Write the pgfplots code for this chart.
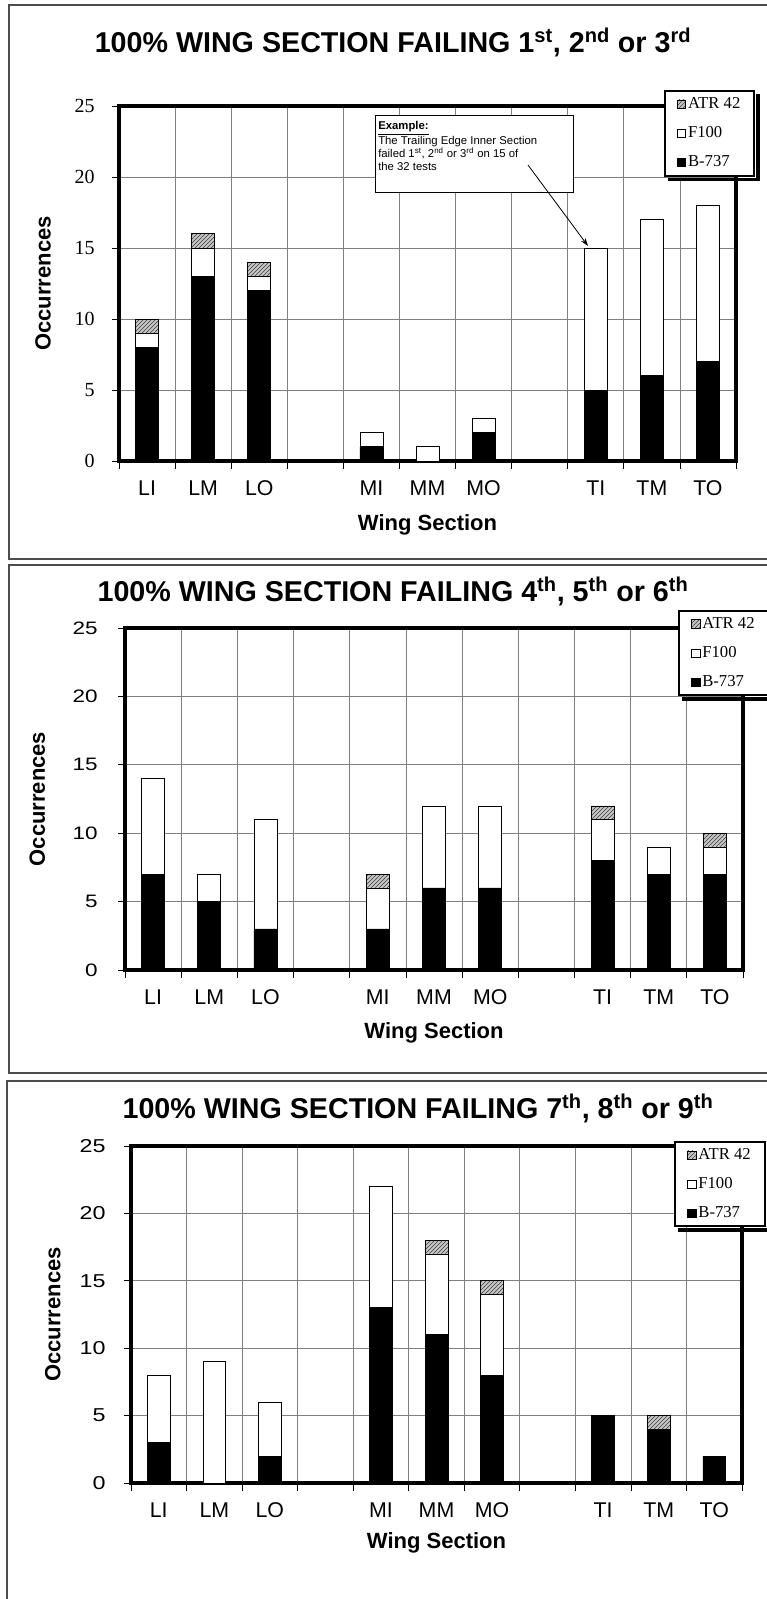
\documentclass[border=0pt]{standalone}
\usepackage{fontspec}
\setmainfont{Liberation Sans}
\newfontfamily\tnr{Liberation Serif}
\newfontfamily\wide[FakeStretch=1.25]{Liberation Sans}
\usepackage{pgfplots}
\usepackage{pgfplotstable}
\pgfplotsset{compat=1.18}
\usetikzlibrary{patterns,arrows.meta}

% stacked counts per wing section: B-737, F100, ATR 42
\pgfplotstableread{
x b737 f100 atr
1 8 1 1
2 13 2 1
3 12 1 1
5 1 1 0
6 0 1 0
7 2 1 0
9 5 10 0
10 6 11 0
11 7 11 0
}\first

\pgfplotstableread{
x b737 f100 atr
1 7 7 0
2 5 2 0
3 3 8 0
5 3 3 1
6 6 6 0
7 6 6 0
9 8 3 1
10 7 2 0
11 7 2 1
}\second

\pgfplotstableread{
x b737 f100 atr
1 3 5 0
2 0 9 0
3 2 4 0
5 13 9 0
6 11 6 1
7 8 6 1
9 5 0 0
10 4 0 1
11 2 0 0
}\third

\pgfplotsset{
  sqlegend/.style={legend image code/.code={\draw[##1,line width=0.5pt] (0pt,-3.2pt) rectangle (6.4pt,3.2pt);}},
  boeing/.style={fill=black, draw=black, line width=0.5pt, sqlegend},
  fokker/.style={fill=white, draw=black, line width=0.5pt, sqlegend},
  atr/.style={fill=gray!45, draw=black, line width=0.5pt,
    postaction={pattern=north east lines, pattern color=black!75}, sqlegend},
  wing/.style={
    scale only axis,
    ybar stacked,
    bar width=0.41,
    xmin=0.5, xmax=11.5,
    ymin=0, ymax=25,
    ytick={0,5,...,25},
    xtick={1,2,3,5,6,7,9,10,11},
    xticklabels={LI,LM,LO,MI,MM,MO,TI,TM,TO},
    minor xtick={0.5,1.5,...,11.5},
    every major x tick/.style={draw=none},
    tick pos=left,
    ymajorgrids=true, xminorgrids=true,
    major grid style={black!50, line width=0.6pt},
    minor grid style={black!50, line width=0.6pt},
    axis line style={line width=2.4pt, line cap=rect},
    tick align=outside,
    tick style={black, line width=0.6pt},
    major tick length=5pt, minor tick length=6pt,
    /pgf/number format/assume math mode=true,
    xticklabel style={font=\fontsize{16}{16}\selectfont, yshift=-6pt},
    xlabel={Wing Section},
    ylabel={Occurrences},
    label style={font=\bfseries\fontsize{16.5}{16.5}\selectfont},
    reverse legend,
    legend style={anchor=north west, draw=black, line width=1.5pt, fill=white,
      font=\tnr\fontsize{12.5}{12.5}\selectfont, legend cell align=left,
      row sep=12pt, inner xsep=9pt, inner ysep=5pt,
      nodes={inner xsep=1.5pt, inner ysep=0pt}},
  },
}

% thick offset shadow right of and below a legend
\newcommand\legshadow[1]{%
  \fill[black] ([shift={(0.75pt,-3pt)}]#1.north east) rectangle ([shift={(3.5pt,-3.5pt)}]#1.south east);
  \fill[black] ([shift={(3pt,-0.75pt)}]#1.south west) rectangle ([shift={(3.5pt,-3.5pt)}]#1.south east);
}

\begin{document}
\begin{tikzpicture}

% panel frames and titles, in pixels
\begin{scope}[x=0.75pt, y=-0.75pt]
  \draw[black!70, line width=1.2pt] (9,5) rectangle (800,559);
  \draw[black!70, line width=1.2pt] (9,565) rectangle (800,1073);
  \draw[black!70, line width=1.2pt] (7,1081) rectangle (800,1700);
  \node[font=\bfseries\fontsize{21.5}{21.5}\selectfont] at (393,42)
    {100\% WING SECTION FAILING 1\textsuperscript{st}, 2\textsuperscript{nd} or 3\textsuperscript{rd}};
  \node[font=\bfseries\fontsize{21.5}{21.5}\selectfont] at (393,591)
    {100\% WING SECTION FAILING 4\textsuperscript{th}, 5\textsuperscript{th} or 6\textsuperscript{th}};
  \node[font=\bfseries\fontsize{21.5}{21.5}\selectfont] at (418,1108)
    {100\% WING SECTION FAILING 7\textsuperscript{th}, 8\textsuperscript{th} or 9\textsuperscript{th}};
\end{scope}

% 1st, 2nd or 3rd
\begin{axis}[wing,
  at={(89.25pt,-345.75pt)}, anchor=south west,
  width=462.75pt, height=266.25pt,
  yticklabel style={font=\tnr\fontsize{15}{15}\selectfont, xshift=-9.75pt},
  xlabel style={at={(axis description cs:0.5,-0.180)}, anchor=center},
  ylabel style={at={(axis description cs:-0.123,0.5)}, anchor=center},
  legend style={at={(rel axis cs:0.883,1.045)}, name=legA},
]
\addplot[boeing] table[x=x, y=b737] {\first};
\addplot[fokker] table[x=x, y=f100] {\first};
\addplot[atr] table[x=x, y=atr] {\first};
\legend{B-737, F100, ATR 42}
\end{axis}
\legshadow{legA}

% example callout
\begin{scope}[x=0.75pt, y=-0.75pt]
  \draw[black, line width=0.6pt, fill=white] (375,115) rectangle (573,192);
  \node[anchor=north west, align=left, inner sep=0pt, font=\fontsize{8.5}{9.8}\selectfont]
    at (378,121.5)
    {\underline{\textbf{Example:}}\\The Trailing Edge Inner Section\\
     failed 1\textsuperscript{st}, 2\textsuperscript{nd} or 3\textsuperscript{rd} on 15 of\\the 32 tests};
  \draw[black, line width=0.6pt, -{Stealth[length=6pt, width=4pt]}] (528,165) -- (588,246);
\end{scope}

% 4th, 5th or 6th
\begin{axis}[wing,
  at={(93.75pt,-727.5pt)}, anchor=south west,
  width=463.5pt, height=256.5pt,
  yticklabel style={font=\wide\fontsize{13.5}{13.5}\selectfont, xshift=-12pt},
  xlabel style={at={(axis description cs:0.5,-0.184)}, anchor=center},
  ylabel style={at={(axis description cs:-0.142,0.5)}, anchor=center},
  legend style={at={(rel axis cs:0.895,1.053)}, name=legB},
]
\addplot[boeing] table[x=x, y=b737] {\second};
\addplot[fokker] table[x=x, y=f100] {\second};
\addplot[atr] table[x=x, y=atr] {\second};
\legend{B-737, F100, ATR 42}
\end{axis}
\legshadow{legB}

% 7th, 8th or 9th
\begin{axis}[wing,
  at={(98.25pt,-1112.25pt)}, anchor=south west,
  width=458.25pt, height=252.75pt,
  yticklabel style={font=\wide\fontsize{14}{14}\selectfont, xshift=-10.5pt},
  xlabel style={at={(axis description cs:0.5,-0.178)}, anchor=center},
  ylabel style={at={(axis description cs:-0.128,0.5)}, anchor=center},
  legend style={at={(rel axis cs:0.889,1.015)}, name=legC},
]
\addplot[boeing] table[x=x, y=b737] {\third};
\addplot[fokker] table[x=x, y=f100] {\third};
\addplot[atr] table[x=x, y=atr] {\third};
\legend{B-737, F100, ATR 42}
\end{axis}
\legshadow{legC}

\pgfresetboundingbox
\path (0pt,0pt) rectangle (575.25pt,-1199.25pt);
\end{tikzpicture}
\end{document}
